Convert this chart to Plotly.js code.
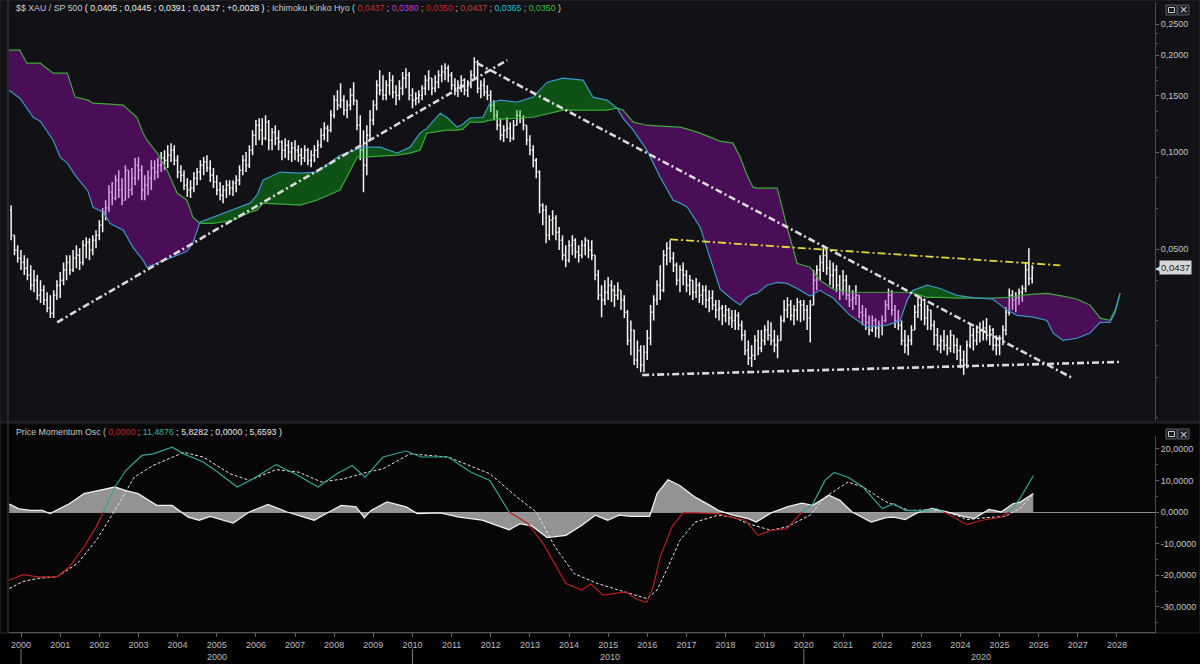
<!DOCTYPE html>
<html><head><meta charset="utf-8">
<script src="https://cdn.plot.ly/plotly-3.0.1.min.js"></script>
<style>html,body{margin:0;padding:0;background:#000;}#chart{width:1200px;height:664px;}</style>
</head><body><div id="chart"></div>
<script>
// ---------------- DATA ----------------
// Monthly bars of $$ XAU / SP 500 starting Oct 1999 (open = previous close)
const barStartYear = 1999, barStartMonth = 10;
const firstOpen = 0.0660;
const closes = [
 .0552,.0496,.0468,
 .0454,.0436,.0415,.0386,.0400,.0359,.0372,.0347,.0328,.0316,.0359,.0386,
 .0400,.0430,.0454,.0430,.0468,.0478,.0454,.0514,.0525,.0496,.0532,.0552,
 .0593,.0651,.0670,.0751,.0720,.0818,.0762,.0709,.0879,.0762,.0830,.0911,
 .0879,.0762,.0789,.0830,.0892,.0867,.0911,.0958,.0944,.0978,.1014,.0944,
 .0867,.0848,.0789,.0762,.0773,.0830,.0867,.0911,.0931,.0892,.0848,.0807,
 .0762,.0735,.0762,.0789,.0773,.0801,.0818,.0879,.0944,.0911,.1014,.1129,
 .1212,.1170,.1105,.1239,.1089,.1153,.1105,.1074,.1014,.1051,.1000,.1029,
 .1014,.0978,.0958,.1014,.0944,.0978,.1014,.1051,.1129,.1187,.1170,.1302,
 .1450,.1399,.1450,.1350,.1399,.1503,.1450,.1212,.1014,.0911,.1129,.1257,
 .1399,.1614,.1557,.1503,.1614,.1673,.1535,.1503,.1580,.1697,.1734,.1503,
 .1450,.1471,.1503,.1580,.1673,.1697,.1580,.1649,.1734,.1772,.1823,.1734,
 .1614,.1580,.1614,.1673,.1557,.1614,.1734,.1903,.1580,.1614,.1535,.1503,
 .1399,.1302,.1212,.1129,.1170,.1187,.1105,.1212,.1302,.1275,.1212,.1089,
 .1014,.0944,.0867,.0684,.0660,.0552,.0614,.0623,.0564,.0532,.0478,.0461,
 .0514,.0532,.0489,.0478,.0514,.0532,.0496,.0478,.0415,.0359,.0347,.0367,
 .0386,.0372,.0359,.0372,.0347,.0318,.0260,.0280,.0226,.0242,.0218,.0239,
 .0264,.0318,.0347,.0386,.0372,.0478,.0503,.0468,.0445,.0400,.0430,.0415,
 .0386,.0400,.0367,.0386,.0359,.0372,.0347,.0352,.0335,.0323,.0328,.0311,
 .0323,.0305,.0300,.0311,.0290,.0270,.0242,.0229,.0234,.0260,.0246,.0260,
 .0280,.0270,.0260,.0251,.0260,.0300,.0323,.0335,.0311,.0323,.0342,.0335,
 .0323,.0305,.0335,.0400,.0430,.0454,.0478,.0436,.0415,.0430,.0386,.0372,
 .0400,.0359,.0347,.0352,.0359,.0318,.0311,.0296,.0280,.0300,.0284,.0290,
 .0300,.0335,.0359,.0323,.0300,.0290,.0260,.0251,.0260,.0280,.0318,.0335,
 .0347,.0305,.0323,.0290,.0270,.0251,.0260,.0251,.0246,.0270,.0251,.0242,
 .0226,.0218,.0251,.0270,.0260,.0276,.0280,.0284,.0270,.0280,.0251,.0251,
 .0264,.0280,.0318,.0359,.0347,.0352,.0367,.0377,.0430,.0405,.0437
];
const highs = [
 .0684,.0552,.0514,
 .0496,.0478,.0468,.0445,.0430,.0415,.0400,.0386,.0367,.0359,.0372,.0400,
 .0424,.0454,.0478,.0478,.0496,.0514,.0503,.0532,.0544,.0540,.0552,.0572,
 .0614,.0670,.0709,.0789,.0807,.0848,.0879,.0830,.0911,.0879,.0892,.0958,
 .0965,.0911,.0848,.0879,.0944,.0944,.0958,.1000,.1014,.1051,.1066,.1051,
 .0978,.0911,.0879,.0830,.0818,.0867,.0892,.0944,.0965,.0978,.0944,.0892,
 .0848,.0807,.0789,.0818,.0818,.0818,.0848,.0911,.0978,.1000,.1051,.1170,
 .1257,.1275,.1275,.1302,.1257,.1187,.1212,.1170,.1089,.1105,.1089,.1074,
 .1089,.1051,.1029,.1051,.1029,.1014,.1051,.1089,.1187,.1239,.1212,.1350,
 .1503,.1557,.1637,.1503,.1450,.1580,.1649,.1450,.1302,.1170,.1212,.1350,
 .1450,.1673,.1797,.1734,.1673,.1772,.1734,.1614,.1673,.1772,.1823,.1772,
 .1580,.1535,.1557,.1614,.1734,.1797,.1697,.1734,.1797,.1862,.1889,.1862,
 .1772,.1697,.1673,.1734,.1697,.1673,.1797,.1972,.1930,.1673,.1697,.1614,
 .1557,.1450,.1350,.1275,.1212,.1283,.1239,.1257,.1350,.1350,.1302,.1212,
 .1129,.1051,.0958,.0879,.0694,.0684,.0637,.0660,.0637,.0585,.0552,.0514,
 .0532,.0552,.0540,.0514,.0532,.0544,.0532,.0532,.0478,.0430,.0386,.0400,
 .0409,.0400,.0386,.0394,.0372,.0359,.0323,.0300,.0280,.0260,.0251,.0251,
 .0280,.0335,.0359,.0400,.0445,.0496,.0525,.0532,.0489,.0454,.0445,.0454,
 .0430,.0415,.0400,.0406,.0394,.0386,.0386,.0372,.0372,.0347,.0347,.0335,
 .0335,.0328,.0323,.0323,.0318,.0300,.0280,.0260,.0251,.0270,.0280,.0280,
 .0290,.0300,.0296,.0280,.0270,.0311,.0347,.0354,.0347,.0335,.0352,.0347,
 .0347,.0335,.0347,.0430,.0445,.0478,.0503,.0496,.0461,.0454,.0445,.0415,
 .0430,.0415,.0386,.0372,.0386,.0359,.0335,.0328,.0311,.0311,.0305,.0300,
 .0311,.0347,.0377,.0372,.0335,.0323,.0300,.0280,.0270,.0290,.0335,.0354,
 .0354,.0347,.0335,.0323,.0300,.0284,.0270,.0280,.0270,.0280,.0270,.0264,
 .0251,.0242,.0260,.0290,.0284,.0290,.0296,.0300,.0305,.0290,.0284,.0270,
 .0270,.0290,.0330,.0377,.0372,.0367,.0377,.0386,.0454,.0503,.0445
];
const lows = [
 .0532,.0478,.0454,
 .0430,.0415,.0400,.0372,.0367,.0347,.0340,.0335,.0318,.0305,.0305,.0347,
 .0352,.0386,.0400,.0415,.0424,.0436,.0430,.0445,.0468,.0461,.0478,.0503,
 .0532,.0564,.0614,.0651,.0684,.0709,.0720,.0684,.0709,.0720,.0735,.0789,
 .0818,.0709,.0709,.0735,.0762,.0818,.0830,.0867,.0879,.0892,.0931,.0911,
 .0830,.0807,.0762,.0725,.0720,.0751,.0789,.0818,.0848,.0867,.0807,.0773,
 .0735,.0709,.0694,.0720,.0735,.0730,.0751,.0789,.0848,.0867,.0892,.0978,
 .1051,.1089,.1051,.1089,.1014,.1014,.1051,.1014,.0944,.0958,.0944,.0931,
 .0944,.0931,.0911,.0931,.0911,.0898,.0931,.0958,.1029,.1089,.1074,.1153,
 .1275,.1350,.1369,.1302,.1275,.1350,.1399,.1170,.0944,.0751,.0848,.1089,
 .1212,.1350,.1503,.1450,.1450,.1503,.1471,.1399,.1450,.1503,.1580,.1450,
 .1369,.1399,.1419,.1450,.1503,.1557,.1503,.1535,.1580,.1649,.1673,.1649,
 .1557,.1503,.1482,.1535,.1503,.1482,.1580,.1673,.1524,.1471,.1492,.1450,
 .1331,.1257,.1170,.1089,.1074,.1105,.1074,.1089,.1212,.1230,.1170,.1051,
 .0978,.0898,.0830,.0646,.0593,.0521,.0532,.0552,.0532,.0496,.0461,.0439,
 .0454,.0478,.0468,.0454,.0468,.0478,.0468,.0461,.0400,.0347,.0307,.0335,
 .0347,.0342,.0330,.0347,.0323,.0305,.0251,.0234,.0218,.0213,.0207,.0207,
 .0226,.0251,.0300,.0335,.0347,.0367,.0445,.0454,.0424,.0386,.0367,.0386,
 .0367,.0359,.0347,.0352,.0340,.0335,.0328,.0318,.0323,.0305,.0300,.0290,
 .0296,.0290,.0284,.0280,.0280,.0260,.0234,.0218,.0215,.0226,.0234,.0239,
 .0251,.0260,.0251,.0239,.0229,.0260,.0296,.0305,.0300,.0290,.0300,.0296,
 .0300,.0280,.0256,.0335,.0372,.0400,.0424,.0415,.0386,.0377,.0367,.0347,
 .0359,.0347,.0330,.0323,.0335,.0305,.0290,.0280,.0270,.0276,.0266,.0264,
 .0270,.0296,.0323,.0311,.0284,.0280,.0251,.0237,.0234,.0251,.0280,.0305,
 .0300,.0290,.0280,.0280,.0251,.0242,.0237,.0242,.0234,.0239,.0237,.0226,
 .0213,.0203,.0213,.0246,.0242,.0251,.0256,.0260,.0260,.0251,.0242,.0234,
 .0234,.0251,.0270,.0311,.0323,.0318,.0335,.0342,.0367,.0386,.0391
];

// Ichimoku cloud (Senkou span A = blue, span B = green), decimal years
const cloudT = [1999.69,1999.97,2000.15,2000.31,2000.49,2000.82,2001.00,2001.18,2001.38,2001.71,
 2001.84,2002.10,2002.27,2002.61,2002.86,2002.96,2003.12,2003.22,2003.48,2003.73,
 2003.99,2004.24,2004.39,2004.57,2004.91,2005.42,2005.85,2006.03,2006.18,2006.62,
 2007.13,2007.56,2008.15,2008.59,2008.74,2009.17,2009.61,2009.94,2010.19,2010.37,
 2010.71,2010.88,2011.14,2011.29,2011.47,2011.80,2011.98,2012.24,2012.67,2013.08,
 2013.44,2013.85,2014.36,2014.61,2014.97,2015.23,2015.38,2015.64,2015.99,2016.33,
 2016.66,2016.84,2017.02,2017.35,2017.60,2017.78,2017.86,2018.19,2018.37,2018.55,
 2018.70,2018.80,2019.06,2019.32,2019.57,2019.83,2019.98,2020.16,2020.41,2020.75,
 2021.18,2021.62,2022.13,2022.46,2022.64,2022.79,2023.15,2023.48,2023.91,2024.32,
 2024.83,2025.19,2025.45,2025.86,2026.21,2026.37,2026.62,2026.98,2027.31,2027.57,
 2027.82,2027.95,2028.08];
const spanA = [.1557,.1471,.1369,.1283,.1248,.1089,.0965,.0924,.0848,.0756,
 .0674,.0651,.0601,.0572,.0506,.0489,.0461,.0439,.0451,.0464,
 .0478,.0492,.0521,.0606,.0628,.0660,.0694,.0735,.0818,.0867,
 .0860,.0867,.0978,.1022,.1036,.1036,.0993,.1036,.1145,.1187,
 .1320,.1283,.1195,.1221,.1275,.1283,.1419,.1450,.1429,.1482,
 .1649,.1697,.1673,.1482,.1450,.1369,.1275,.1170,.1014,.0836,
 .0709,.0694,.0674,.0585,.0471,.0400,.0375,.0347,.0335,.0354,
 .0362,.0364,.0386,.0394,.0391,.0377,.0367,.0357,.0372,.0352,
 .0311,.0286,.0290,.0300,.0347,.0372,.0386,.0377,.0359,.0353,
 .0349,.0323,.0311,.0307,.0300,.0274,.0260,.0264,.0274,.0296,
 .0296,.0316,.0364];
const spanB = [.2073,.2073,.1889,.1889,.1889,.1759,.1759,.1759,.1482,.1450,
 .1419,.1409,.1409,.1399,.1312,.1283,.1145,.1089,.0993,.0879,
 .0746,.0709,.0628,.0601,.0601,.0614,.0651,.0660,.0694,.0689,
 .0684,.0709,.0762,.0965,.0965,.0971,.0978,.0993,.1014,.1145,
 .1162,.1170,.1170,.1178,.1239,.1239,.1257,.1266,.1275,.1283,
 .1312,.1350,.1350,.1350,.1350,.1369,.1350,.1239,.1212,.1204,
 .1195,.1195,.1178,.1145,.1113,.1089,.1081,.1066,.0965,.0848,
 .0778,.0773,.0773,.0773,.0585,.0451,.0445,.0439,.0400,.0375,
 .0367,.0367,.0367,.0367,.0367,.0364,.0354,.0354,.0352,.0352,
 .0352,.0354,.0357,.0362,.0364,.0362,.0357,.0349,.0335,.0305,
 .0300,.0323,.0364];

// Trend lines (decimal year, value)
const trendUpT = [2000.92, 2012.42], trendUpV = [0.0296, 0.1930];
const trendDownT = [2011.65, 2026.85], trendDownV = [0.1889, 0.0199];
const baseT = [2015.87, 2028.13], baseV = [0.0203, 0.0223];
const yellowT = [2016.58, 2026.55], yellowV = [0.0536, 0.0445];
const lastPrice = 0.0437;

// Price Momentum Oscillator
const momT = [1999.70,2000.05,2000.43,2000.92,2001.23,2001.61,2001.92,2002.10,2002.40,2002.68,
 2003.09,2003.37,2003.86,2004.16,2004.65,2005.03,2005.52,2005.93,2006.52,2007.00,
 2007.59,2008.07,2008.46,2008.79,2009.25,2009.84,2010.22,2010.91,2011.50,2011.98,
 2012.47,2012.95,2013.34,2013.64,2013.92,2014.33,2014.56,2014.87,2015.15,2015.46,
 2015.74,2015.99,2016.15,2016.33,2016.63,2016.91,2017.20,2017.81,2018.19,2018.50,
 2018.83,2019.16,2019.57,2019.95,2020.23,2020.54,2020.77,2021.13,2021.51,2022.00,
 2022.30,2022.59,2023.07,2023.38,2023.66,2024.17,2024.55,2025.04,2025.24,2025.52,2025.86];
const momV = [-21.6,-19.8,-20.5,-20.5,-17.4,-11.0,-4.7,0.0,7.9,13.2,
 17.9,18.4,20.5,18.4,15.8,12.6,7.9,10.5,15.0,12.1,
 7.9,12.1,14.7,11.0,17.4,19.3,17.4,17.4,12.6,10.0,
 0.0,-3.7,-10.0,-16.3,-22.6,-24.7,-22.8,-26.3,-25.8,-25.3,
 -27.7,-28.6,-23.7,-14.2,-4.7,-0.3,-0.3,-0.5,-1.8,-2.6,
 -7.4,-5.8,-5.3,0.0,2.6,10.0,12.5,11.0,7.9,1.1,
 2.6,0.5,0.3,1.1,-0.5,-4.0,-2.6,-1.6,0.0,4.2,11.49];
const sigT = [1999.70,2000.05,2000.43,2000.92,2001.44,2001.92,2002.40,2002.89,2003.37,2004.16,
 2004.65,2005.34,2005.83,2006.52,2007.10,2007.67,2008.25,2008.84,2009.25,2009.94,
 2010.91,2011.98,2012.67,2013.16,2013.64,2014.13,2014.72,2015.46,2015.99,2016.25,
 2016.53,2016.83,2017.22,2017.81,2018.19,2018.58,2019.16,2019.57,2020.16,2020.54,
 2021.13,2021.51,2022.10,2022.69,2023.28,2023.66,2024.17,2024.63,2025.14,2025.52,2025.86];
const sigV = [-24.2,-22.0,-21.0,-20.5,-16.3,-9.0,0.5,11.0,14.7,18.9,
 17.4,12.1,10.0,13.4,12.6,9.5,10.5,12.6,13.7,18.4,
 17.4,12.1,4.7,0.0,-11.0,-19.5,-22.6,-25.3,-27.4,-24.7,
 -17.4,-9.0,-3.2,-1.0,-1.6,-3.7,-5.8,-4.7,-1.0,4.7,
 9.5,7.9,3.2,0.5,0.7,0.0,-2.4,-1.8,-1.4,1.1,5.66];
const histT = [1999.70,1999.95,2000.26,2000.54,2000.74,2001.23,2001.61,2002.40,2002.68,2002.99,
 2003.47,2003.86,2004.27,2004.55,2004.83,2005.42,2005.83,2006.31,2006.80,2007.49,
 2007.87,2008.18,2008.56,2008.77,2008.94,2009.35,2009.84,2010.12,2010.71,2011.19,
 2011.78,2012.47,2012.75,2013.06,2013.44,2013.92,2014.33,2014.67,2014.99,2015.28,
 2015.58,2016.06,2016.25,2016.53,2016.83,2017.22,2017.60,2017.81,2018.19,2018.58,
 2018.78,2019.16,2019.57,2019.95,2020.23,2020.64,2020.92,2021.23,2021.72,2022.10,
 2022.30,2022.59,2022.89,2023.28,2023.66,2024.07,2024.35,2024.73,2025.04,2025.34,
 2025.54,2025.86];
const histV = [2.5,1.0,0.5,0.5,-0.5,2.6,5.8,7.9,6.8,5.8,
 2.1,2.1,-1.6,-2.6,-1.4,-3.5,0.0,2.4,0.0,-2.6,
 0.0,2.1,1.6,-1.8,0.5,3.2,1.6,-0.5,-0.3,-1.6,
 -2.6,-5.6,-3.7,-4.5,-8.1,-7.4,-4.2,-1.0,-2.6,-1.0,
 -1.4,-1.4,5.8,10.2,8.4,4.7,2.1,0.5,-1.0,-2.1,
 -3.2,-0.3,1.6,2.8,2.1,5.3,3.7,0.0,-3.2,-1.8,
 -1.6,-2.4,-0.3,1.1,0.0,-1.4,-2.1,0.8,0.0,2.6,
 3.2,5.83];

// Axis tick labels
const priceTicks = [0.05, 0.10, 0.15, 0.20, 0.25];
const priceTickText = ['0,0500','0,1000','0,1500','0,2000','0,2500'];
const oscTicks = [-30, -20, -10, 0, 10, 20];
const oscTickText = ['-30,0000','-20,0000','-10,0000','0,0000','10,0000','20,0000'];
const decadeLabels = ['2000','2010','2020'];
const decadeLabelT = [2005.0, 2015.05, 2024.53];
const decadeSepT = [2000, 2010, 2020];

// ---------------- DRAWING ----------------
const FONT = "'Liberation Sans',Arial,sans-serif";
const W=1200,H=664,ML=9,MR=45,MT=2,MB=32;
const PW=W-ML-MR, PH=H-MT-MB;
const px = x => (x-ML)/PW;
const py = y => (H-MB-y)/PH;

function dec2date(t){
  if (t===null) return null;
  const y=Math.floor(t); const a=Date.UTC(y,0,1), b=Date.UTC(y+1,0,1);
  return new Date(a+(t-y)*(b-a)).toISOString().slice(0,19).replace('T',' ');
}
const barDates = closes.map((_,i)=>{const m=(barStartMonth-1)+i; const y=barStartYear+Math.floor(m/12); return y+'-'+String(m%12+1).padStart(2,'0')+'-01';});
const opens = closes.map((c,i)=> i===0 ? firstOpen : closes[i-1]);

const traces = [];
traces.push({type:'ohlc', x:barDates, open:opens, high:highs, low:lows, close:closes,
  xaxis:'x', yaxis:'y', tickwidth:0.4, hoverinfo:'skip',
  increasing:{line:{color:'#f4f4f4', width:1.5}}, decreasing:{line:{color:'#f4f4f4', width:1.5}}});

// cloud polygons split where the spans cross (or touch)
const lA = spanA.map(Math.log10), lB = spanB.map(Math.log10);
const n = cloudT.length;
const polys=[]; let cur={t:[cloudT[0]],a:[lA[0]],b:[lB[0]],s:lA[0]-lB[0]};
for(let i=0;i<n-1;i++){
  const d0=lA[i]-lB[i], d1=lA[i+1]-lB[i+1];
  if(d0*d1<0){
    const f=d0/(d0-d1); const tc=cloudT[i]+f*(cloudT[i+1]-cloudT[i]); const vc=lA[i]+f*(lA[i+1]-lA[i]);
    cur.t.push(tc);cur.a.push(vc);cur.b.push(vc);polys.push(cur);
    cur={t:[tc],a:[vc],b:[vc],s:0};
  }
  cur.t.push(cloudT[i+1]);cur.a.push(lA[i+1]);cur.b.push(lB[i+1]);cur.s+=d1;
  if(Math.abs(d1)<1e-9 && i+1<n-1){
    polys.push(cur);
    cur={t:[cloudT[i+1]],a:[lA[i+1]],b:[lB[i+1]],s:0};
  }
}
polys.push(cur);
polys.forEach(p=>{
  const xs=p.t.concat(p.t.slice().reverse()).map(dec2date);
  const ys=p.a.concat(p.b.slice().reverse()).map(v=>Math.pow(10,v));
  traces.push({type:'scatter',mode:'lines',x:xs,y:ys,fill:'toself',line:{width:0},
    fillcolor: p.s>=0 ? 'rgba(10,200,20,0.36)' : 'rgba(175,12,200,0.36)', hoverinfo:'skip', xaxis:'x', yaxis:'y'});
});
const cloudDates = cloudT.map(dec2date);
traces.push({type:'scatter',mode:'lines',x:cloudDates,y:spanB,line:{color:'#3fa83a',width:1.2},xaxis:'x',yaxis:'y',hoverinfo:'skip'});
traces.push({type:'scatter',mode:'lines',x:cloudDates,y:spanA,line:{color:'#3b95c6',width:1.2},xaxis:'x',yaxis:'y',hoverinfo:'skip'});

// trend lines
const dd = '7px,3px,2px,3px';
[[trendUpT,trendUpV],[trendDownT,trendDownV],[baseT,baseV]].forEach(([t,v])=>{
  traces.push({type:'scatter',mode:'lines',x:t.map(dec2date),y:v,line:{color:'#dadada',width:2.6,dash:dd},xaxis:'x',yaxis:'y',hoverinfo:'skip'});
});
traces.push({type:'scatter',mode:'lines',x:yellowT.map(dec2date),y:yellowV,line:{color:'#e4da3a',width:1.8,dash:'8px,3px,2px,3px'},xaxis:'x',yaxis:'y',hoverinfo:'skip'});

// oscillator
traces.push({type:'scatter',mode:'lines',x:histT.map(dec2date),y:histV,fill:'tozeroy',fillcolor:'rgba(160,160,160,0.92)',
  line:{color:'#f0f0f0',width:1.3},xaxis:'x',yaxis:'y2',hoverinfo:'skip'});
traces.push({type:'scatter',mode:'lines',x:sigT.map(dec2date),y:sigV,line:{color:'#e6e6e6',width:1,dash:'3px,2px'},xaxis:'x',yaxis:'y2',hoverinfo:'skip'});
function splitBySign(ts,vs){
  const pos={x:[],y:[]},neg={x:[],y:[]};
  function add(tr,t0,v0,t1,v1){const k=tr.x.length;
    if(k&&tr.x[k-1]===t0&&tr.y[k-1]===v0){tr.x.push(t1);tr.y.push(v1);}
    else{if(k){tr.x.push(null);tr.y.push(null);}tr.x.push(t0,t1);tr.y.push(v0,v1);}}
  for(let i=0;i<ts.length-1;i++){
    const t0=ts[i],v0=vs[i],t1=ts[i+1],v1=vs[i+1];
    if(v0*v1<0){const tc=t0+(t1-t0)*v0/(v0-v1);add(v0>0?pos:neg,t0,v0,tc,0);add(v1>0?pos:neg,tc,0,t1,v1);}
    else add((v0+v1)>=0?pos:neg,t0,v0,t1,v1);
  }
  return [pos,neg];
}
const [mPos,mNeg]=splitBySign(momT,momV);
traces.push({type:'scatter',mode:'lines',x:mNeg.x.map(dec2date),y:mNeg.y,line:{color:'#b8201f',width:1.2},xaxis:'x',yaxis:'y2',hoverinfo:'skip',connectgaps:false});
traces.push({type:'scatter',mode:'lines',x:mPos.x.map(dec2date),y:mPos.y,line:{color:'#34a594',width:1.2},xaxis:'x',yaxis:'y2',hoverinfo:'skip',connectgaps:false});

// layout decorations
const shapes=[
  {type:'rect',xref:'paper',yref:'paper',x0:px(0),x1:px(1200),y0:py(422),y1:py(0),fillcolor:'#121116',line:{color:'#2b2b30',width:1},layer:'below'},
  {type:'rect',xref:'paper',yref:'paper',x0:px(0),x1:px(1200),y0:py(633),y1:py(423),fillcolor:'#060606',line:{color:'#2b2b2b',width:1},layer:'below'},
  {type:'line',xref:'paper',yref:'paper',x0:px(8),x1:px(8),y0:py(633),y1:py(0),line:{color:'#3c3c3c',width:1}},
];
decadeSepT.forEach(t=>shapes.push({type:'line',xref:'x',yref:'paper',x0:dec2date(t),x1:dec2date(t),y0:py(649),y1:py(664),line:{color:'#7a7a7a',width:1}}));
[[5,15],[429,439]].forEach(([a,b])=>{
  shapes.push({type:'rect',xref:'paper',yref:'paper',x0:px(1166),x1:px(1177),y0:py(b),y1:py(a),fillcolor:'#1b1b22',line:{color:'#5c5c6c',width:1}});
  shapes.push({type:'rect',xref:'paper',yref:'paper',x0:px(1178),x1:px(1189),y0:py(b),y1:py(a),fillcolor:'#1b1b22',line:{color:'#5c5c6c',width:1}});
  shapes.push({type:'rect',xref:'paper',yref:'paper',x0:px(1168.5),x1:px(1174.5),y0:py(b-2.5),y1:py(a+2.5),line:{color:'#c8c8c8',width:1}});
});

const sp=(c,t)=>'<span style="color:'+c+'">'+t+'</span>';
const G='#c9c9c9';
const headTop = sp(G,'$$ XAU / SP 500 ')+sp('#f0f0f0','( 0,0405 ; 0,0445 ; 0,0391 ; 0,0437 ; +0,0028 )')+sp(G,' ; Ichimoku Kinko Hyo ( ')
 +sp('#d42828','0,0437')+sp(G,' ; ')+sp('#c23bd6','0,0380')+sp(G,' ; ')+sp('#c82a2a','0,0350')+sp(G,' ; ')
 +sp('#b8482a','0,0437')+sp(G,' ; ')+sp('#2fbfd0','0,0365')+sp(G,' ; ')+sp('#34c234','0,0350')+sp(G,' )');
const headBot = sp(G,'Price Momentum Osc ( ')+sp('#c62828','0,0000')+sp(G,' ; ')+sp('#3bb3a0','11,4876')
 +sp('#e8e8e8',' ; 5,8282 ; 0,0000 ; 5,6593 )');

const annotations=[
  {xref:'paper',yref:'paper',x:px(14),y:py(8.5),xanchor:'left',yanchor:'middle',showarrow:false,text:headTop,font:{family:FONT,size:8.8,color:G}},
  {xref:'paper',yref:'paper',x:px(14),y:py(432),xanchor:'left',yanchor:'middle',showarrow:false,text:headBot,font:{family:FONT,size:8.8,color:G}},
  {xref:'paper',yref:'y',x:px(1159),y:Math.log10(lastPrice),xanchor:'left',yanchor:'middle',showarrow:false,text:'0,0437',
    bgcolor:'#d6d6d6',borderpad:1,font:{family:FONT,size:9.5,color:'#1a1a1a'}},
  {xref:'paper',yref:'y',x:px(1153),y:Math.log10(lastPrice),xanchor:'left',yanchor:'middle',showarrow:false,text:'◀',font:{size:8,color:'#d6d6d6'}},
];
[py(10),py(434)].forEach(yy=>annotations.push({xref:'paper',yref:'paper',x:px(1183.5),y:yy,xanchor:'center',yanchor:'middle',showarrow:false,text:'×',font:{family:'DejaVu Sans',size:11,color:'#cfcfcf'}}));
decadeLabels.forEach((l,i)=>annotations.push({xref:'x',yref:'paper',x:dec2date(decadeLabelT[i]),y:py(657),xanchor:'center',yanchor:'middle',showarrow:false,text:l,font:{family:FONT,size:9,color:'#bdbdbd'}}));

const layout={
  width:W,height:H,margin:{l:ML,r:MR,t:MT,b:MB,pad:0},
  paper_bgcolor:'#000000',plot_bgcolor:'rgba(0,0,0,0)',showlegend:false,hovermode:false,
  xaxis:{type:'date',range:['1999-09-11','2028-12-21'],anchor:'y2',showgrid:false,zeroline:false,
    rangeslider:{visible:false},tickformat:'%Y',dtick:'M12',tick0:'2000-01-01',ticks:'outside',ticklen:4,tickcolor:'#666',
    showline:true,linecolor:'#555',tickfont:{family:FONT,size:9,color:'#bdbdbd'}},
  yaxis:{type:'log',domain:[py(421),py(2)],range:[-1.83535,-0.53372],side:'right',anchor:'x',showgrid:false,zeroline:false,
    tickvals:priceTicks,ticktext:priceTickText,ticks:'outside',ticklen:3,tickcolor:'#666',showline:true,linecolor:'#4a4a4a',
    tickfont:{family:FONT,size:9,color:'#c4c4c4'},
    minor:{tickvals:[0.015,0.02,0.025,0.03,0.04,0.0667,0.0833,0.1167,0.1333,0.1667,0.1833,0.2167,0.2333],ticklen:2,tickcolor:'#555',ticks:'outside'}},
  yaxis2:{domain:[0,py(436)],range:[-37.97,24.05],side:'right',anchor:'x',showgrid:false,zeroline:true,zerolinecolor:'#8c8c8c',zerolinewidth:1,
    tickvals:oscTicks,ticktext:oscTickText,ticks:'outside',ticklen:3,tickcolor:'#666',showline:true,linecolor:'#4a4a4a',
    tickfont:{family:FONT,size:9,color:'#c4c4c4'},minor:{dtick:5,ticklen:2,tickcolor:'#555',ticks:'outside'}},
  shapes:shapes,annotations:annotations
};
Plotly.newPlot('chart',traces,layout,{staticPlot:true,displayModeBar:false});
</script></body></html>
